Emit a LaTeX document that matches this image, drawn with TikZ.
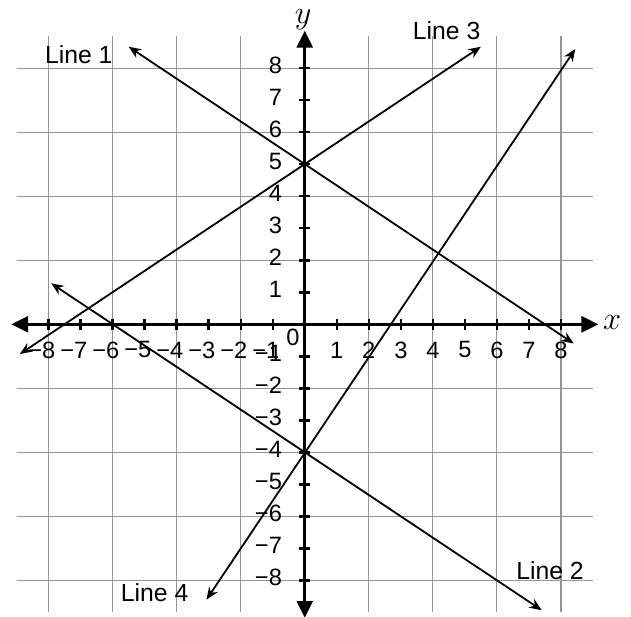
\documentclass[tikz,border=0pt]{standalone}
\usepackage{fontspec}
\setmainfont{Liberation Sans}
\usetikzlibrary{arrows.meta}

\tikzset{
    gridline/.style={draw=black!42, line width=0.55pt},
    axis/.style={line width=1.4pt, -{Triangle[width=7pt,length=7.5pt]}},
    tickmark/.style={line width=1.1pt},
    graphline/.style={line width=0.8pt, {Stealth[length=5.5pt,width=4.5pt]}-{Stealth[length=5.5pt,width=4.5pt]}},
    numlabel/.style={font=\fontsize{10.5}{12}\selectfont, inner sep=0pt},
    linelabel/.style={font=\fontsize{11}{13}\selectfont, inner sep=0pt},
    axislabel/.style={font=\fontsize{14.5}{17}\selectfont, inner sep=0pt}
}

\begin{document}
\begin{tikzpicture}[x=0.5cm, y=0.5cm]

    % Fix the margins
    \useasboundingbox (-9.52,-9.12) rectangle (10.19,10.13);

    % Draw the grid
    \draw[gridline] (-9,-9) grid (9,9);

    % Axes
    \coordinate (O) at (0,0);
    \coordinate (Xl) at (-9.17,0);
    \coordinate (Xr) at (9.17,0);
    \coordinate (Yb) at (0,-9.17);
    \coordinate (Yt) at (0,9.17);
    \draw[axis] (O) -- (Xr);
    \draw[axis] (O) -- (Xl);
    \draw[axis] (O) -- (Yt);
    \draw[axis] (O) -- (Yb);

    % Label the axes
    \node[axislabel] (xlab) at (9.6,0.05) {$x$};
    \node[axislabel] (ylab) at (-0.05,9.5) {$y$};
    \node[numlabel] (zero) at (-0.37,-0.42) {0};

    % Tick marks and numbers
    \foreach \k in {1,...,8} {
        \draw[tickmark] (\k,-0.17) -- (\k,0.17);
        \draw[tickmark] (-\k,-0.17) -- (-\k,0.17);
        \draw[tickmark] (-0.17,\k) -- (0.17,\k);
        \draw[tickmark] (-0.17,-\k) -- (0.17,-\k);
        \node[numlabel] (xp\k) at (\k,-0.8) {\k};
        \node[numlabel] (xn\k) at (-\k,-0.8) {\llap{−}\k};
        \node[numlabel, anchor=east] (yp\k) at (-0.7,\k+0.1) {\k};
        \node[numlabel, anchor=east] (yn\k) at (-0.7,-\k+0.1) {−\k};
    }

    % Points where the lines cross the y-axis
    \coordinate (A) at (0,5);
    \coordinate (B) at (0,-4);

    % End points of the four lines
    \coordinate (L1a) at (-5.5,8.67);
    \coordinate (L1b) at (8.4,-0.6);
    \coordinate (L2a) at (-7.92,1.28);
    \coordinate (L2b) at (7.4,-8.93);
    \coordinate (L3a) at (-8.9,-0.93);
    \coordinate (L3b) at (5.5,8.67);
    \coordinate (L4a) at (-3.07,-8.6);
    \coordinate (L4b) at (8.45,8.6);

    % Draw the lines
    \draw[graphline] (L1a) -- (L1b);
    \draw[graphline] (L2a) -- (L2b);
    \draw[graphline] (L3a) -- (L3b);
    \draw[graphline] (L4a) -- (L4b);

    % Name the lines
    \node[linelabel] (n1) at (-7.06,8.42) {Line 1};
    \node[linelabel] (n2) at (7.66,-7.7) {Line 2};
    \node[linelabel] (n3) at (4.43,9.17) {Line 3};
    \node[linelabel] (n4) at (-4.69,-8.39) {Line 4};

\end{tikzpicture}
\end{document}
